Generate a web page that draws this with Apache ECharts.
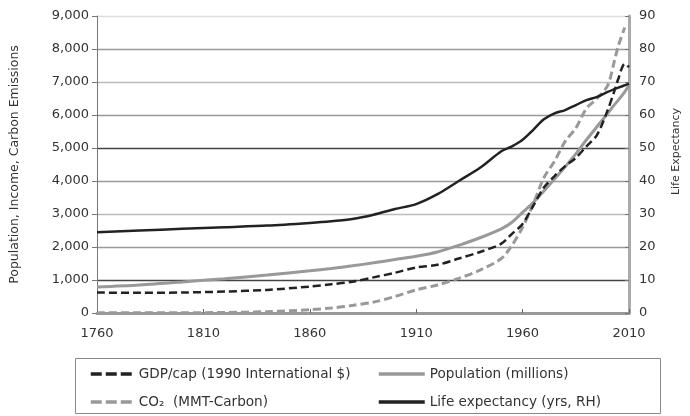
<!DOCTYPE html>
<html>
<head>
<meta charset="utf-8">
<script src="https://cdn.jsdelivr.net/npm/echarts@6/dist/echarts.min.js"></script>
<style>html,body{margin:0;padding:0;background:#fff}#c{width:690px;height:416px}</style>
</head>
<body>
<div id="c"></div>
<script>
const years = [1760,1780,1800,1820,1840,1860,1870,1880,1890,1900,1910,1920,1930,1940,1950,1955,1960,1965,1970,1975,1980,1985,1990,1995,2000,2003,2005,2008,2010];
const gdpPerCap = [620,610,620,650,700,800,870,950,1080,1220,1380,1460,1650,1850,2100,2400,2700,3250,3800,4150,4450,4700,5050,5400,6150,6700,7100,7550,7450];
const population = [790,850,940,1040,1150,1280,1350,1430,1520,1620,1720,1850,2050,2280,2550,2750,3050,3350,3700,4060,4430,4820,5250,5650,6050,6300,6450,6700,6900];
const co2 = [5,8,10,15,40,100,150,230,330,500,700,850,1050,1300,1650,2050,2600,3300,4100,4600,5200,5600,6200,6500,6900,7600,8100,8650,null];
const lifeExp = [24.5,25,25.5,26,26.5,27.3,27.8,28.5,29.8,31.5,33,36,40,44,49,50.5,52.5,55.5,58.7,60.5,61.5,63,64.5,65.5,67,67.8,68.3,69,69.5];
const xTicks = [1760,1810,1860,1910,1960,2010];
const names = ['GDP/cap (1990 International $)','Population (millions)','CO\u2082  (MMT-Carbon)','Life expectancy (yrs, RH)'];

const pair = arr => years.map((y,i) => [y, arr[i]]);
const font = 'DejaVu Sans';
const txt = {color:'#333', fontFamily:font, fontSize:13};

const chart = echarts.init(document.getElementById('c'), null, {renderer:'canvas'});
const legendPos = [[89,367,43,6,[11,4]],[377,367,46,4,'solid'],[89,395,43,6,[11,4]],[377,395,46,4,'solid']];
chart.setOption({
  animation:false,
  grid:{left:96, right:61, top:16, bottom:103},
  graphic:[{type:'rect', shape:{x:75.5,y:358.5,width:585,height:55}, style:{fill:'none', stroke:'#888', lineWidth:1}}],
  legend: names.map((n,i)=>({
    data:[n], left:legendPos[i][0], top:legendPos[i][1], itemWidth:legendPos[i][2], itemHeight:14, itemGap:legendPos[i][3],
    itemStyle:{opacity:0, borderWidth:0},
    lineStyle:{width:3.5, type:legendPos[i][4]},
    textStyle:{color:'#333', fontFamily:font, fontSize:13.6}, padding:0
  })),
  xAxis:{
    type:'value', min:1760, max:2010,
    axisLine:{show:true, onZero:false, lineStyle:{color:'#999', width:3}},
    axisTick:{show:true, inside:true, length:4, customValues:xTicks, lineStyle:{color:'#666'}},
    axisLabel:{customValues:xTicks, margin:14, ...txt, formatter:v=>String(v)},
    splitLine:{show:false}
  },
  yAxis:[{
    type:'value', min:0, max:9000, interval:1000,
    name:'Population, Income, Carbon Emissions', nameLocation:'middle', nameGap:76, nameRotate:90,
    nameTextStyle:{...txt, fontSize:12.5},
    axisLine:{show:true, lineStyle:{color:'#777', width:1}},
    axisTick:{show:true, length:5, lineStyle:{color:'#777'}},
    axisLabel:{margin:8, ...txt, formatter:v=>v.toLocaleString('en-US')},
    splitLine:{show:true, lineStyle:{color:['#999','#444','#999','#bbb','#999','#444','#999','#bbb','#999','#ddd'], width:1.3}}
  },{
    type:'value', min:0, max:90, interval:10, position:'right',
    name:'Life Expectancy', nameLocation:'middle', nameGap:42, nameRotate:90,
    nameTextStyle:{...txt, fontSize:11, padding:[0,0,0,26]},
    axisLine:{show:true, lineStyle:{color:'#aaa', width:3}},
    axisTick:{show:true, inside:true, length:4, lineStyle:{color:'#777'}},
    axisLabel:{margin:10, ...txt},
    splitLine:{show:false}
  }],
  series:[
    {name:names[0], type:'line', data:pair(gdpPerCap), showSymbol:false, symbol:'none', smooth:0.3,
     lineStyle:{color:'#222', width:2.5, type:[8,4]}, itemStyle:{color:'#222'}, z:4},
    {name:names[1], type:'line', data:pair(population), showSymbol:false, symbol:'none', smooth:0.3,
     lineStyle:{color:'#999', width:3}, itemStyle:{color:'#999'}, z:3},
    {name:names[2], type:'line', data:pair(co2), showSymbol:false, symbol:'none', smooth:0.3,
     lineStyle:{color:'#999', width:3, type:[8,4]}, itemStyle:{color:'#999'}, z:3},
    {name:names[3], type:'line', yAxisIndex:1, data:pair(lifeExp), showSymbol:false, symbol:'none', smooth:0.3,
     lineStyle:{color:'#222', width:2.5}, itemStyle:{color:'#222'}, z:5}
  ]
});
</script>
</body>
</html>
